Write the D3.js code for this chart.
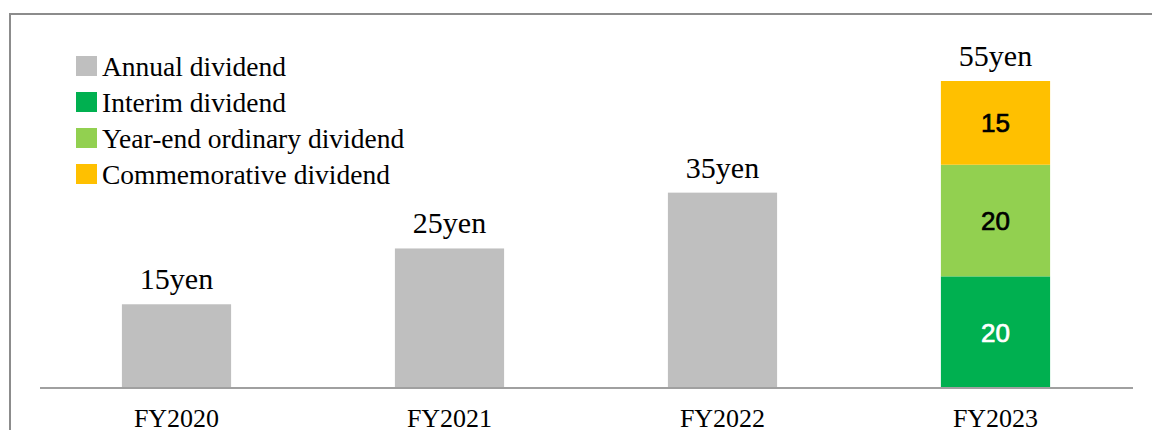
<!DOCTYPE html>
<html>
<head>
<meta charset="utf-8">
<script src="https://cdn.jsdelivr.net/npm/d3@7"></script>
<style>
  body { margin: 0; background: #fff; }
  svg { display: block; }
</style>
</head>
<body>
<div id="chart"></div>
<script>
// data
const years = ["FY2020", "FY2021", "FY2022", "FY2023"];
const annual = [15, 25, 35, 0];
const interim = [0, 0, 0, 20];
const yearEnd = [0, 0, 0, 20];
const commemorative = [0, 0, 0, 15];
const totals = [15, 25, 35, 55];

const seriesNames = ["Annual dividend", "Interim dividend", "Year-end ordinary dividend", "Commemorative dividend"];
const seriesKeys = ["annual", "interim", "yearEnd", "commemorative"];
const colors = ["#bfbfbf", "#00b050", "#92d050", "#ffc000"];
const insideText = ["#000", "#fff", "#000", "#000"];

const W = 1152, H = 430;
const baseY = 388;

const svg = d3.select("#chart").append("svg")
    .attr("width", W)
    .attr("height", H);

// outer frame (runs off the right and bottom edge)
svg.append("rect")
    .attr("x", 10).attr("y", 14)
    .attr("width", 1160).attr("height", 440)
    .attr("fill", "none")
    .attr("stroke", "#8c8c8c")
    .attr("stroke-width", 2);

const x = d3.scaleBand()
    .domain(years)
    .range([40, 1132])
    .paddingInner(0.6)
    .paddingOuter(0.3);

const y = d3.scaleLinear()
    .domain([0, 55])
    .range([baseY, 81]);

const rows = years.map((yr, i) => ({
    year: yr, annual: annual[i], interim: interim[i],
    yearEnd: yearEnd[i], commemorative: commemorative[i]
}));

const stacked = d3.stack().keys(seriesKeys)(rows);

const layers = svg.selectAll(".layer")
    .data(stacked)
    .enter().append("g")
    .attr("class", "layer")
    .attr("fill", (d, i) => colors[i]);

layers.selectAll("rect")
    .data(d => d.filter(s => s[1] - s[0] > 0))
    .enter().append("rect")
    .attr("x", d => x(d.data.year))
    .attr("width", x.bandwidth())
    .attr("y", d => y(d[1]))
    .attr("height", d => y(d[0]) - y(d[1]));

// numbers inside the FY2023 stack
stacked.forEach((layer, li) => {
    if (li === 0) return;
    layer.forEach(s => {
        const v = s[1] - s[0];
        if (v <= 0) return;
        svg.append("text")
            .attr("x", x(s.data.year) + x.bandwidth() / 2)
            .attr("y", (y(s[0]) + y(s[1])) / 2)
            .attr("dy", "0.36em")
            .attr("text-anchor", "middle")
            .attr("font-family", "Liberation Sans, Arial, sans-serif")
            .attr("font-size", 26)
            .attr("fill", insideText[li])
            .attr("stroke", insideText[li])
            .attr("stroke-width", 0.7)
            .text(v);
    });
});

// totals above bars
svg.selectAll(".total")
    .data(years)
    .enter().append("text")
    .attr("class", "total")
    .attr("x", d => x(d) + x.bandwidth() / 2)
    .attr("y", (d, i) => y(totals[i]) - 15)
    .attr("text-anchor", "middle")
    .attr("font-family", "Liberation Serif, Times New Roman, serif")
    .attr("font-size", 30)
    .attr("fill", "#000")
    .text((d, i) => totals[i] + "yen");

// baseline + category labels
const xAxis = svg.append("g")
    .attr("transform", `translate(0,${baseY})`)
    .call(d3.axisBottom(x).tickSize(0).tickPadding(21));
xAxis.select(".domain")
    .attr("stroke", "#a0a0a0")
    .attr("stroke-width", 2)
    .attr("d", "M40,0H1133");
xAxis.selectAll("text")
    .attr("font-family", "Liberation Serif, Times New Roman, serif")
    .attr("font-size", 26)
    .attr("fill", "#000");

// legend
const legend = svg.selectAll(".legend")
    .data(seriesNames)
    .enter().append("g")
    .attr("class", "legend")
    .attr("transform", (d, i) => `translate(76, ${56 + i * 36})`);

legend.append("rect")
    .attr("width", 21)
    .attr("height", 20)
    .attr("fill", (d, i) => colors[i]);

legend.append("text")
    .attr("x", 26)
    .attr("y", 20)
    .attr("font-family", "Liberation Serif, Times New Roman, serif")
    .attr("font-size", 27.5)
    .attr("fill", "#000")
    .text(d => d);
</script>
</body>
</html>
